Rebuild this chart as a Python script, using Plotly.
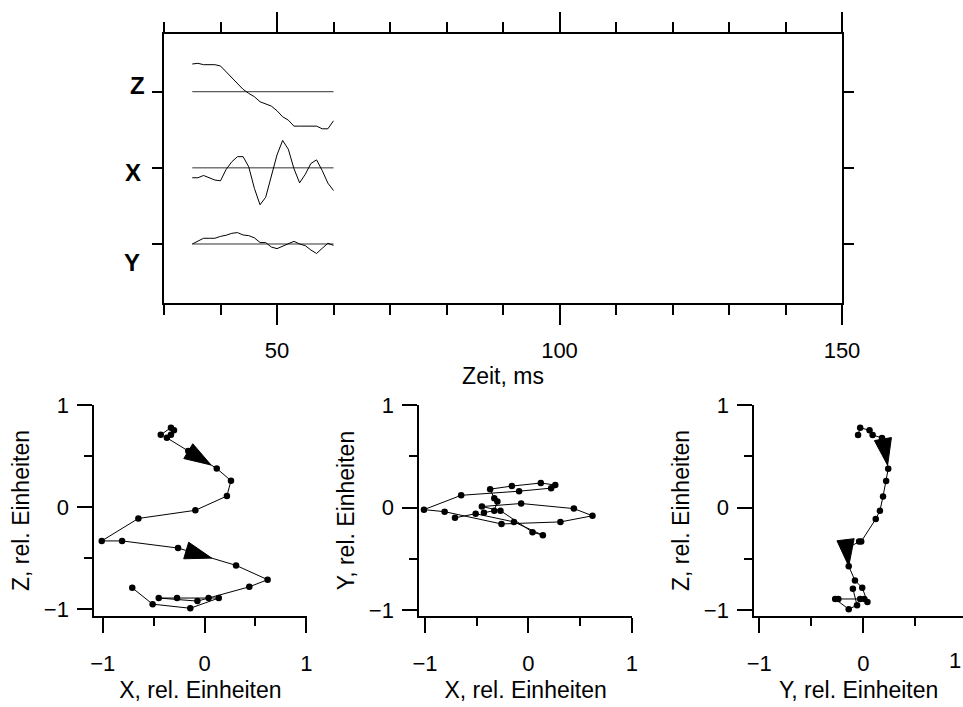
import plotly.graph_objects as go

# ---------------- data ----------------
time_ms = [35, 36, 37, 38, 39, 40, 41, 42, 43, 44, 45, 46, 47, 48, 49, 50,
           51, 52, 53, 54, 55, 56, 57, 58, 59, 60]
z_trace = [0.364, 0.373, 0.355, 0.355, 0.355, 0.338, 0.263, 0.189, 0.110, 0.031,
           -0.022, -0.066, -0.132, -0.162, -0.189, -0.250, -0.329, -0.373, -0.452,
           -0.452, -0.452, -0.452, -0.452, -0.487, -0.487, -0.382]
x_trace = [-0.13, -0.13, -0.10, -0.13, -0.16, -0.17, -0.02, 0.08, 0.147, 0.147,
           0.013, -0.27, -0.485, -0.386, -0.10, 0.17, 0.36, 0.245, -0.01, -0.197,
           -0.085, 0.057, 0.105, -0.035, -0.20, -0.298]
y_trace = [0.0, 0.04, 0.075, 0.075, 0.075, 0.10, 0.115, 0.14, 0.15, 0.118,
           0.11, 0.08, 0.02, 0.018, -0.04, -0.061, -0.03, 0.01, 0.035, 0.0,
           -0.022, -0.079, -0.125, -0.057, 0.009, -0.018]
channel_names = ["Z", "X", "Y"]
channel_offsets = [1, 0, -1]
time_ticks = [50, 100, 150]

hodo_x = [-0.43, -0.33, -0.30, -0.33, -0.37, -0.16, 0.12, 0.26, 0.22, -0.09,
          -0.65, -1.01, -0.81, -0.26, 0.31, 0.62, 0.44, -0.07, -0.45, -0.27,
          0.04, 0.14, -0.14, -0.51, -0.71]
hodo_y = [-0.05, -0.03, 0.06, 0.09, 0.18, 0.21, 0.24, 0.22, 0.19, 0.16,
          0.12, -0.02, -0.04, -0.16, -0.14, -0.08, -0.01, 0.04, 0.01, -0.03,
          -0.24, -0.27, -0.14, -0.06, -0.10]
hodo_z = [0.71, 0.78, 0.755, 0.71, 0.68, 0.55, 0.38, 0.26, 0.11, -0.03,
          -0.11, -0.33, -0.33, -0.40, -0.57, -0.71, -0.78, -0.92, -0.89, -0.89,
          -0.89, -0.89, -0.99, -0.95, -0.79]
hodo_ticks = [-1, 0, 1]

arrow_segments = [5, 13]
arrow_frac_xz = [0.8, 0.58]
arrow_frac_yz = [0.8, 1.0]

# ---------------- figure ----------------
W, H = 963, 707
FONT = "Arial, Liberation Sans, Helvetica, sans-serif"
fig = go.Figure()

traces = {"Z": z_trace, "X": x_trace, "Y": y_trace}
for name, off in zip(channel_names, channel_offsets):
    fig.add_trace(go.Scatter(x=[time_ms[0], time_ms[-1]], y=[off, off], mode="lines",
                             line=dict(color="#333", width=1), xaxis="x", yaxis="y",
                             showlegend=False, hoverinfo="skip"))
    fig.add_trace(go.Scatter(x=time_ms, y=[off + v for v in traces[name]], mode="lines",
                             line=dict(color="black", width=1), xaxis="x", yaxis="y",
                             showlegend=False))


def arrow_points(a, b, fracs):
    xs, ys, sizes = [], [], []
    for seg, f in zip(arrow_segments, fracs):
        x0, y0 = a[seg], b[seg]
        x1, y1 = a[seg + 1], b[seg + 1]
        xs += [x0, x0 + f * (x1 - x0)]
        ys += [y0, y0 + f * (y1 - y0)]
        sizes += [0, 28]
    return xs, ys, sizes


panels = [("x2", "y2", hodo_x, hodo_z, arrow_frac_xz),
          ("x3", "y3", hodo_x, hodo_y, None),
          ("x4", "y4", hodo_y, hodo_z, arrow_frac_yz)]
for xa, ya, a, b, fr in panels:
    fig.add_trace(go.Scatter(x=a, y=b, mode="lines+markers",
                             line=dict(color="black", width=1),
                             marker=dict(color="black", size=6.5),
                             xaxis=xa, yaxis=ya, showlegend=False, cliponaxis=False))
    if fr is not None:
        ax_, ay_, sz = arrow_points(a, b, fr)
        fig.add_trace(go.Scatter(x=ax_, y=ay_, mode="markers",
                                 marker=dict(symbol="arrow", size=sz, color="black",
                                             opacity=1, angleref="previous",
                                             line=dict(width=1, color="black")),
                                 xaxis=xa, yaxis=ya, showlegend=False, cliponaxis=False))


def px_x(p):
    return p / W


def px_y(p):
    return 1 - p / H


axis_common = dict(showline=True, linecolor="black", linewidth=2, showgrid=False,
                   zeroline=False, ticks="outside", tickcolor="black", tickwidth=2,
                   automargin=False,
                   tickfont=dict(family=FONT, size=22, color="black"))

# top panel
fig.update_layout(
    xaxis=dict(**axis_common, domain=[px_x(164), px_x(842)], range=[30, 150],
               tickvals=time_ticks, ticklen=20, mirror="allticks",
               minor=dict(dtick=10, tick0=0, ticklen=10, tickwidth=2, ticks="outside",
                          tickcolor="black"),
               ticklabelstandoff=7, anchor="y",
               title=dict(text="Zeit, ms", font=dict(family=FONT, size=23, color="black"),
                          standoff=0)),
    yaxis=dict(**axis_common, domain=[px_y(303), px_y(34)], range=[-1.775, 1.758],
               tickvals=channel_offsets, ticklen=10, mirror="ticks",
               showticklabels=False, anchor="x"),
)

# label centre x (px) and downward shift (px) relative to the channel tick
label_pos = {"Z": (137, -6), "X": (133, 4.5), "Y": (132, 19)}
for name, off in zip(channel_names, channel_offsets):
    lx, down = label_pos[name]
    fig.add_annotation(x=px_x(lx), xref="paper", xanchor="center", y=off, yref="y",
                       yanchor="middle", yshift=-down,
                       text=name, showarrow=False,
                       font=dict(family=FONT, size=24, color="black", weight="bold"))


def hodo_axes(n, left, right, xr, yr, xt, yt):
    fig.layout[f"xaxis{n}"] = dict(**axis_common, domain=[px_x(left), min(1, px_x(right))],
                                   range=xr, tickvals=hodo_ticks, ticklen=15,
                                   minor=dict(dtick=0.5, tick0=0, ticklen=8, tickwidth=2,
                                              ticks="outside", tickcolor="black"),
                                   ticklabelstandoff=12, anchor=f"y{n}",
                                   title=dict(text=xt, standoff=6,
                                              font=dict(family=FONT, size=23, color="black")))
    fig.layout[f"yaxis{n}"] = dict(**axis_common, domain=[px_y(616), px_y(405)],
                                   range=yr, tickvals=hodo_ticks, ticklen=15,
                                   minor=dict(dtick=0.5, tick0=0, ticklen=8, tickwidth=2,
                                              ticks="outside", tickcolor="black"),
                                   ticklabelstandoff=4, anchor=f"x{n}",
                                   title=dict(text=yt, standoff=8,
                                              font=dict(family=FONT, size=23, color="black")))


hodo_axes(2, 94.3, 306.5, [-1.083, 1.002], [-1.066, 1.002],
          "X, rel. Einheiten", "Z, rel. Einheiten")
hodo_axes(3, 419.3, 632, [-1.055, 1.002], [-1.059, 1.002],
          "X, rel. Einheiten", "Y, rel. Einheiten")
hodo_axes(4, 754.3, 963, [-1.048, 0.959], [-1.056, 1.002],
          "Y, rel. Einheiten", "Z, rel. Einheiten")

# the "1" label of the right panel sits at the window edge
fig.add_annotation(x=px_x(955), xref="paper", xanchor="center", y=px_y(660), yref="paper",
                   yanchor="middle", text="1", showarrow=False,
                   font=dict(family=FONT, size=22, color="black"))

fig.update_layout(width=W, height=H, margin=dict(l=0, r=0, t=0, b=0, pad=0),
                  autosize=False,
                  plot_bgcolor="white", paper_bgcolor="white",
                  font=dict(family=FONT, color="black"))

fig.write_html("out.html", config={"displayModeBar": False},
               post_script="document.body.style.margin='0';"
                           "document.body.style.overflow='hidden';")
